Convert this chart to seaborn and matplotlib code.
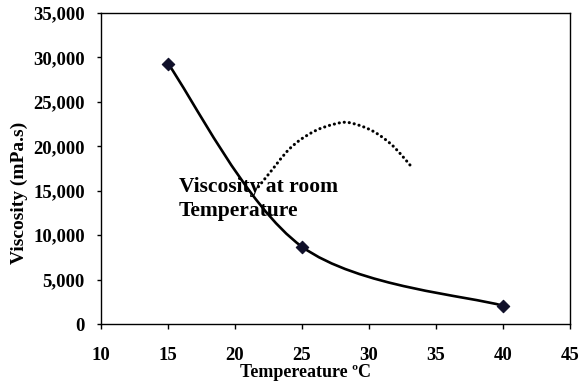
import numpy as np
import matplotlib
matplotlib.use("Agg")
import matplotlib.pyplot as plt
from matplotlib.path import Path
from matplotlib.patches import PathPatch
import pandas as pd
import seaborn as sns

# Measured viscosity
temperature = [15, 25, 40]
viscosity = [29300, 8700, 2050]

# Hand-drawn dotted arc beside the note
arc_x = [21.75, 22.86, 23.86, 24.85, 26.10, 27.34, 28.34, 29.57, 30.57, 31.57, 32.31, 33.06]
arc_y = [15450, 17520, 19390, 20710, 21830, 22470, 22700, 22200, 21460, 20340, 19210, 17890]

x_ticks = [10, 15, 20, 25, 30, 35, 40, 45]
y_ticks = [0, 5000, 10000, 15000, 20000, 25000, 30000, 35000]
note = "Viscosity at room\nTemperature"


def smooth_path(xs, ys):
    """Cubic Bezier path through the points (spreadsheet-style smoothed line)."""
    pts = np.column_stack([xs, ys]).astype(float)
    n = len(pts)
    verts = [pts[0]]
    codes = [Path.MOVETO]
    for i in range(n - 1):
        p_prev = pts[i - 1] if i > 0 else pts[i]
        p_next = pts[i + 2] if i + 2 < n else pts[i + 1]
        c1 = pts[i] + (pts[i + 1] - p_prev) / 6.0
        c2 = pts[i + 1] - (p_next - pts[i]) / 6.0
        verts += [c1, c2, pts[i + 1]]
        codes += [Path.CURVE4] * 3
    return Path(verts, codes)


sns.set_theme(style="white")
plt.rcParams["font.family"] = ["Liberation Serif", "DejaVu Serif"]
plt.rcParams["font.weight"] = "bold"

fig = plt.figure(figsize=(5.79, 3.85), dpi=100)
ax = fig.add_axes([0.1744, 0.1584, 0.8101, 0.8078])

df = pd.DataFrame({"Temperature": temperature, "Viscosity": viscosity})

# Smoothed curve through the measurements
ax.add_patch(PathPatch(smooth_path(temperature, viscosity), facecolor="none",
                       edgecolor="black", linewidth=1.9, capstyle="round", zorder=2))

# Dotted arc
ax.add_patch(PathPatch(smooth_path(arc_x, arc_y), facecolor="none",
                       edgecolor="black", linewidth=2.2, linestyle=(0, (0.05, 1.6)),
                       capstyle="round", zorder=2))

sns.scatterplot(data=df, x="Temperature", y="Viscosity", marker="D", s=40,
                color="#10102a", edgecolor="#10102a", linewidth=0.8, ax=ax, zorder=3)

ax.text(15.82, 16600, note, fontsize=15.5, fontweight="bold", ha="left", va="top",
        linespacing=1.28, color="black", zorder=4)

ax.set_xlim(10, 45)
ax.set_ylim(0, 35000)
ax.set_xticks(x_ticks)
ax.set_yticks(y_ticks)
ax.set_xticklabels([str(t) for t in x_ticks])
ax.set_yticklabels([f"{t:,}" for t in y_ticks])

for side in ["left", "bottom", "top", "right"]:
    ax.spines[side].set_visible(True)
    ax.spines[side].set_color("black")
    ax.spines[side].set_linewidth(1.0)

ax.tick_params(axis="x", which="major", direction="out", length=3.6, width=1.0,
               pad=13.0, labelsize=13.5, colors="black", bottom=True, top=False)
ax.tick_params(axis="y", which="major", direction="out", length=3.0, width=1.0,
               pad=8.6, labelsize=13.5, colors="black", left=True, right=False)
for lab in ax.get_xticklabels() + ax.get_yticklabels():
    lab.set_fontweight("bold")

ax.set_xlabel("Tempereature ºC", fontsize=13, fontweight="bold", color="black")
ax.set_ylabel("Viscosity (mPa.s)", fontsize=14, fontweight="bold", color="black")
ax.xaxis.set_label_coords(0.435, -0.128)
ax.yaxis.set_label_coords(-0.155, 0.423)
ax.grid(False)

fig.savefig("out.png", dpi=100, facecolor="white")
